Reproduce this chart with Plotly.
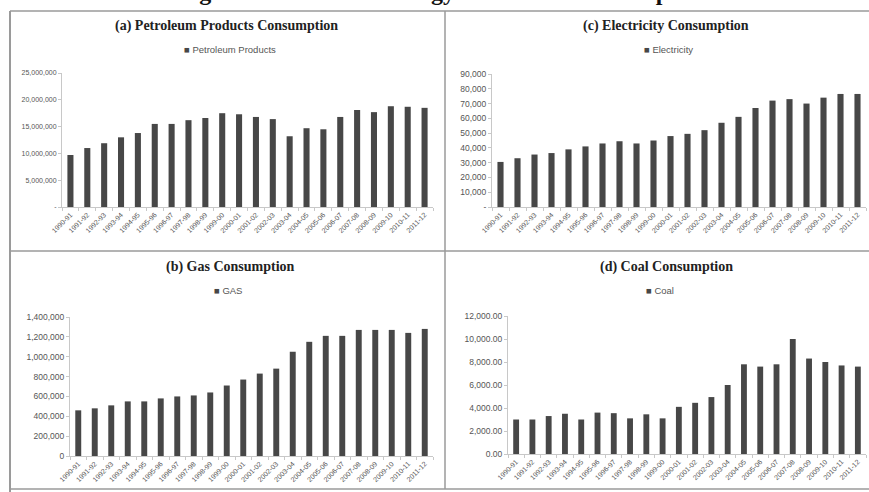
import plotly.graph_objects as go

W, H = 869, 492

years = ["1990-91", "1991-92", "1992-93", "1993-94", "1994-95", "1995-96", "1996-97",
         "1997-98", "1998-99", "1999-00", "2000-01", "2001-02", "2002-03", "2003-04",
         "2004-05", "2005-06", "2006-07", "2007-08", "2008-09", "2009-10", "2010-11",
         "2011-12"]

petroleum = [9.7e6, 11.0e6, 11.9e6, 13.0e6, 13.8e6, 15.5e6, 15.5e6, 16.2e6, 16.6e6, 17.5e6,
             17.3e6, 16.8e6, 16.4e6, 13.2e6, 14.7e6, 14.5e6, 16.8e6, 18.1e6, 17.7e6, 18.8e6,
             18.7e6, 18.5e6]
electricity = [30500, 33000, 35500, 36500, 39000, 41000, 43000, 44500, 43000, 45000, 48000,
               49500, 52000, 57000, 61000, 67000, 72000, 73000, 70000, 74000, 76500, 76500]
gas = [460000, 480000, 510000, 550000, 550000, 580000, 600000, 610000, 640000, 710000,
       770000, 830000, 880000, 1050000, 1150000, 1210000, 1210000, 1270000, 1270000,
       1270000, 1240000, 1280000]
coal = [3000, 3000, 3300, 3500, 3000, 3600, 3550, 3100, 3450, 3100, 4100, 4450, 4950,
        6000, 7800, 7600, 7800, 10000, 8300, 8000, 7700, 7600]

pet_ticks = [0, 5e6, 10e6, 15e6, 20e6, 25e6]
pet_ticktext = ["-", "5,000,000", "10,000,000", "15,000,000", "20,000,000", "25,000,000"]
ele_ticks = [0, 10000, 20000, 30000, 40000, 50000, 60000, 70000, 80000, 90000]
ele_ticktext = ["-", "10,000", "20,000", "30,000", "40,000", "50,000", "60,000", "70,000",
                "80,000", "90,000"]
gas_ticks = [0, 200000, 400000, 600000, 800000, 1000000, 1200000, 1400000]
coal_ticks = [0, 2000, 4000, 6000, 8000, 10000, 12000]

panel_titles = ["(a) Petroleum Products Consumption", "(c) Electricity Consumption",
                "(b) Gas Consumption", "(d) Coal Consumption"]
series_names = ["Petroleum Products", "Electricity", "GAS", "Coal"]
main_title = "Figure 2: Trends of Energy Resources Consumption"

BAR = "#474747"
TICK = "#555555"
AX = "#c8c8c8"
BORDER = "#9a9a9a"


def px_x(x):
    return x / W


def px_y(y):
    return 1 - y / H


# plot areas in pixels: (left, right, top, bottom)
areas = [(62, 433, 73, 207), (492, 866, 74, 207), (70, 433, 317, 456), (508, 866, 316, 454)]
title_pos = [(226, 26), (666, 26), (230, 267), (666, 267)]
legend_pos = [(230, 50), (668, 50), (228, 290), (660, 290)]
datasets = [petroleum, electricity, gas, coal]

fig = go.Figure()
for i, vals in enumerate(datasets):
    sfx = "" if i == 0 else str(i + 1)
    fig.add_trace(go.Bar(x=years, y=vals, name=series_names[i], marker_color=BAR,
                         marker_line_width=0, xaxis="x" + sfx, yaxis="y" + sfx,
                         showlegend=False))

layout = dict(width=W, height=H,
              margin=dict(l=0, r=0, t=0, b=0, pad=0, autoexpand=False),
              paper_bgcolor="white", plot_bgcolor="white", bargap=0.64,
              font=dict(family="Liberation Sans, Arial, sans-serif", color=TICK))

yranges = [[0, 25e6], [0, 90000], [0, 1.4e6], [0, 12000]]
yticks = [(pet_ticks, pet_ticktext), (ele_ticks, ele_ticktext),
          (gas_ticks, [f"{v:,}" for v in gas_ticks]),
          (coal_ticks, [f"{v:,.2f}" for v in coal_ticks])]
ysizes = [7, 8.5, 8.5, 8.5]

for i, (l, r, t, b) in enumerate(areas):
    sfx = "" if i == 0 else str(i + 1)
    layout["xaxis" + sfx] = dict(domain=[px_x(l), px_x(r)], anchor="y" + sfx,
                                 type="category", automargin=False,
                                 range=[-0.5, len(years) - 0.5], tickangle=-45,
                                 tickfont=dict(size=7, color=TICK), showline=True,
                                 linecolor=AX, linewidth=1, showgrid=False,
                                 ticks="outside", ticklen=3, tickcolor=AX,
                                 tickson="boundaries", fixedrange=True)
    layout["yaxis" + sfx] = dict(domain=[px_y(b), px_y(t)], anchor="x" + sfx,
                                 automargin=False,
                                 range=yranges[i], tickvals=yticks[i][0],
                                 ticktext=yticks[i][1],
                                 tickfont=dict(size=ysizes[i], color=TICK), showline=True,
                                 linecolor=AX, linewidth=1, showgrid=False,
                                 ticks="outside", ticklen=3, tickcolor=AX, zeroline=False,
                                 fixedrange=True)

annotations = []
for i, (tx, ty) in enumerate(title_pos):
    annotations.append(dict(x=px_x(tx), y=px_y(ty), xref="paper", yref="paper",
                            text="<b>" + panel_titles[i] + "</b>", showarrow=False,
                            xanchor="center", yanchor="middle",
                            font=dict(family="Liberation Serif, Times New Roman, serif",
                                      size=14, color="#222222")))
    lx, ly = legend_pos[i]
    annotations.append(dict(x=px_x(lx), y=px_y(ly), xref="paper", yref="paper",
                            text="<span style='color:" + BAR + "'>■</span> " + series_names[i],
                            showarrow=False, xanchor="center", yanchor="middle",
                            font=dict(size=9.5, color=TICK)))
annotations.append(dict(x=px_x(443), y=px_y(-8), xref="paper", yref="paper",
                        text="<b>" + main_title + "</b>", showarrow=False,
                        xanchor="center", yanchor="middle",
                        font=dict(family="Liberation Serif, Times New Roman, serif",
                                  size=24, color="#111111")))
layout["annotations"] = annotations

shapes = []


def line(x0, y0, x1, y1, w=1.5):
    shapes.append(dict(type="line", xref="paper", yref="paper", x0=px_x(x0), y0=px_y(y0),
                       x1=px_x(x1), y1=px_y(y1), line=dict(color=BORDER, width=w)))


line(10, 11, 869, 11)
line(10, 11, 10, 492, 2)
line(445, 11, 445, 489)
line(10, 251, 869, 251)
line(10, 489, 869, 489)
layout["shapes"] = shapes

fig.update_layout(**layout)
fig.write_html("out.html", config={"displayModeBar": False},
               post_script="document.body.style.margin='0';")
